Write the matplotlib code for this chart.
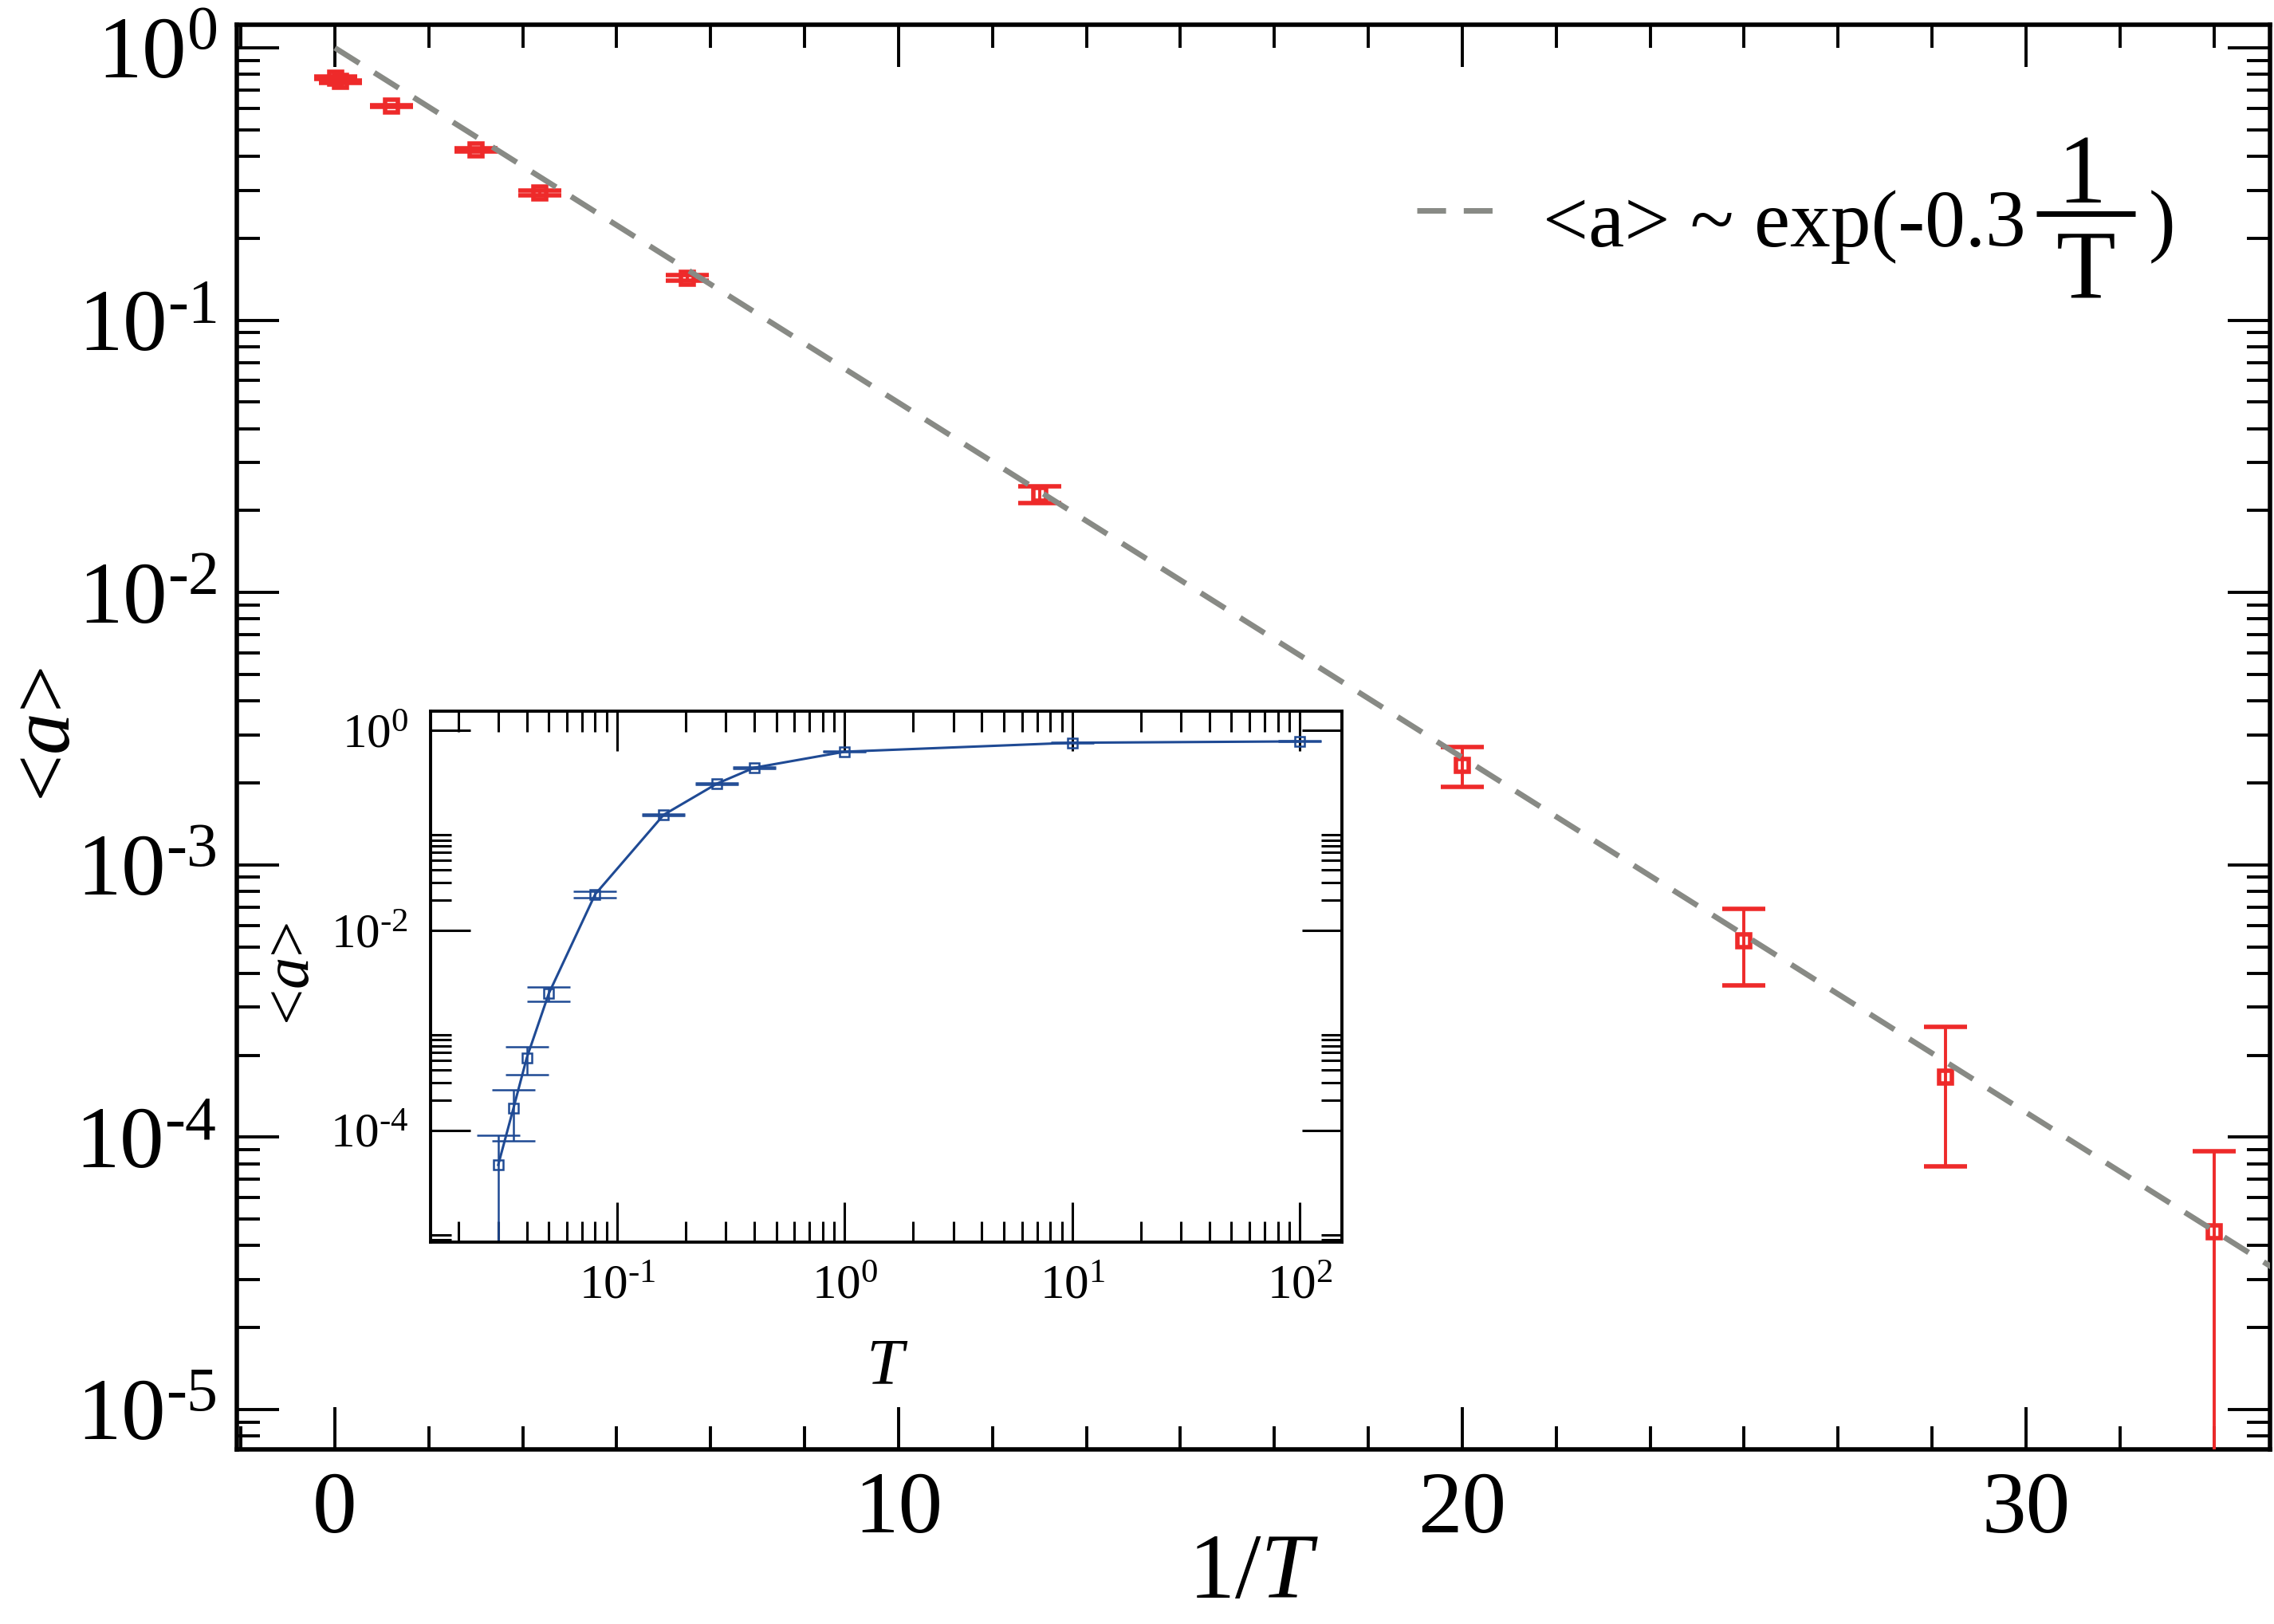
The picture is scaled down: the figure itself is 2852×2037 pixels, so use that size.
import numpy as np
import matplotlib
matplotlib.use('Agg')
import matplotlib.pyplot as plt
from matplotlib.ticker import (MultipleLocator, LogLocator, FixedLocator,
                               NullFormatter, FuncFormatter)

plt.rcParams['font.family'] = 'Liberation Serif'
plt.rcParams['mathtext.fontset'] = 'custom'
plt.rcParams['mathtext.rm'] = 'Liberation Serif'
plt.rcParams['mathtext.it'] = 'Liberation Serif:italic'
plt.rcParams['mathtext.bf'] = 'Liberation Serif:bold'

# temperatures and measured <a> with errors
temp = np.array([100, 10, 1, 0.4, 0.275, 0.16, 0.08, 0.05, 0.04, 0.035, 0.03])
a_mean = np.array([0.776, 0.752, 0.612, 0.423, 0.294, 0.143, 0.0229,
                   2.32e-3, 5.25e-4, 1.66e-4, 4.5e-5])
a_err = np.array([0.008, 0.008, 0.004, 0.006, 0.006, 0.003, 0.0016,
                  3.8e-4, 1.64e-4, 8.8e-5, 4.4e-5])
fit_coef = 0.3

red = '#ee2a2a'
gray = '#888a85'
blue = '#1f4a94'

HYPHEN = '\u2010'


def pow10(v, pos):
    # xmgrace style label: short hyphen in the exponent
    e = int(round(np.log10(v)))
    if e < 0:
        return '$\\mathdefault{10^{' + HYPHEN + '%d}}$' % (-e)
    return '$\\mathdefault{10^{%d}}$' % e


fig = plt.figure(figsize=(14.26, 10.185), dpi=200)

# main plot: <a> vs 1/T
ax = fig.add_axes([0.10414, 0.10751, 0.89411, 0.87727])
ax.errorbar(1 / temp, a_mean, yerr=a_err, fmt='s', color=red, ms=6, mew=2,
            mfc='none', elinewidth=1.4, capsize=9.7, capthick=1.4, zorder=3)
xfit = np.linspace(0, 35, 300)
ax.plot(xfit, np.exp(-fit_coef * xfit), color=gray, lw=2.5,
        dashes=(5.2, 3.2), zorder=4)

ax.set_yscale('log')
ax.xaxis.set_major_locator(MultipleLocator(10))
ax.xaxis.set_minor_locator(MultipleLocator(10 / 6))
ax.yaxis.set_major_locator(LogLocator(base=10, numticks=20))
ax.yaxis.set_major_formatter(FuncFormatter(pow10))
ax.yaxis.set_minor_locator(LogLocator(base=10, subs=np.arange(2, 10), numticks=20))
ax.yaxis.set_minor_formatter(NullFormatter())
ax.tick_params(which='both', direction='in', top=True, right=True,
               width=1.4, labelsize=40, pad=10)
ax.tick_params(which='major', length=19)
ax.tick_params(which='minor', length=10.5)
ax.tick_params(axis='y', pad=9)
for s in ax.spines.values():
    s.set_linewidth(2)

# hand made legend
ax.plot([0.5804, 0.6212], [0.8696, 0.8696], transform=ax.transAxes,
        color=gray, lw=2.5, dashes=(5.2, 3.2))
ax.text(0.6424, 0.8444, '<a> ~ exp(-0.3', transform=ax.transAxes,
        fontsize=36.5, ha='left', va='baseline')
ax.plot([0.8851, 0.9337], [0.8674, 0.8674], transform=ax.transAxes,
        color='black', lw=2.5, solid_capstyle='butt')
ax.text(0.9075, 0.875, '1', transform=ax.transAxes, fontsize=44,
        ha='center', va='baseline')
ax.text(0.9094, 0.8086, 'T', transform=ax.transAxes, fontsize=44,
        ha='center', va='baseline')
ax.text(0.9404, 0.8444, ')', transform=ax.transAxes, fontsize=36.5,
        ha='left', va='baseline')

ax.set_xlim(-1.74, 34.33)
ax.set_ylim(7.14e-6, 1.216)

fig.text(0.5512, 0.016, '1/$T$', fontsize=42, ha='center', va='baseline')
fig.text(0.0215, 0.5474, '<$a$>', rotation=90, fontsize=38,
         ha='center', va='center')

# inset: <a> vs T
axin = fig.add_axes([0.18934, 0.23515, 0.40077, 0.32695])
axin.errorbar(temp, a_mean, yerr=a_err, fmt='s-', color=blue, ms=4.3, mew=0.9,
              mfc='none', lw=1.1, elinewidth=0.9, capsize=9.7, capthick=1.1)
axin.set_xscale('log')
axin.set_yscale('log')
axin.set_xlim(0.01513, 153)
axin.set_ylim(7.6e-6, 1.557)
axin.xaxis.set_major_locator(LogLocator(base=10, numticks=20))
axin.xaxis.set_major_formatter(FuncFormatter(pow10))
axin.xaxis.set_minor_locator(LogLocator(base=10, subs=np.arange(2, 10), numticks=20))
axin.xaxis.set_minor_formatter(NullFormatter())
axin.yaxis.set_major_locator(FixedLocator([1e-4, 1e-2, 1]))
axin.yaxis.set_major_formatter(FuncFormatter(pow10))
axin.yaxis.set_minor_locator(FixedLocator([s * 10.0 ** e for e in (-6, -4, -2)
                                           for s in range(2, 10)]))
axin.yaxis.set_minor_formatter(NullFormatter())
axin.tick_params(which='both', direction='in', top=True, right=True,
                 width=1.1, labelsize=22, pad=10)
axin.tick_params(which='major', length=18)
axin.tick_params(which='minor', length=9.4)
for s in axin.spines.values():
    s.set_linewidth(1.4)

fig.text(0.39, 0.1478, '$T$', fontsize=30, ha='center', va='baseline')
fig.text(0.1287, 0.4006, '<$a$>', rotation=90, fontsize=29,
         ha='center', va='center')

fig.savefig('out.png', dpi=200)
